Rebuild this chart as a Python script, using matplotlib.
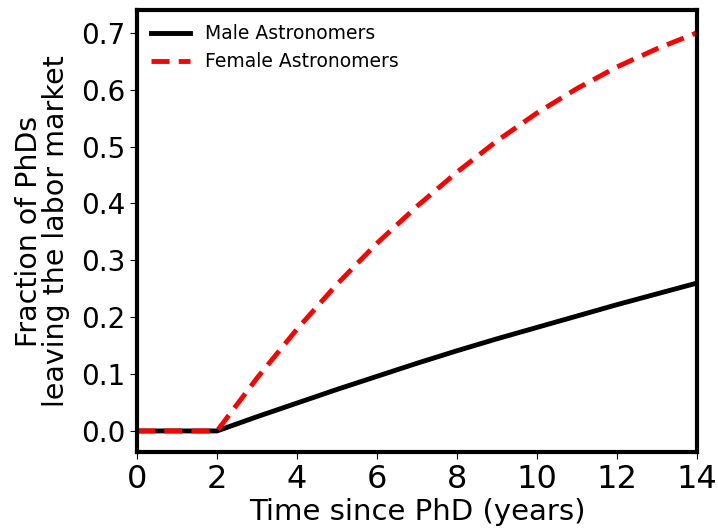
import matplotlib
matplotlib.use('Agg')
import matplotlib.pyplot as plt

# years since PhD
years = [0, 1, 2, 3, 4, 5, 6, 7, 8, 9, 10, 11, 12, 13, 14]
male = [0, 0, 0, 0.025, 0.049, 0.073, 0.096, 0.119, 0.141, 0.162, 0.182,
        0.202, 0.222, 0.241, 0.26]
female = [0, 0, 0, 0.093, 0.179, 0.258, 0.33, 0.395, 0.455, 0.51, 0.559,
          0.602, 0.64, 0.672, 0.70]

fig = plt.figure(figsize=(7.18, 5.29), dpi=100)
ax = fig.add_axes([137/718, 1 - 452/529, 560/718, 442/529])

ax.plot(years, male, '-', color='black', lw=3.5, label='Male Astronomers')
ax.plot(years, female, '--', color='red', lw=3.5, label='Female Astronomers',
        dashes=(3.7, 1.9))

ax.set_xlim(0, 14)
ax.set_ylim(-0.037, 0.74)
ax.set_xticks([0, 2, 4, 6, 8, 10, 12, 14])
ax.set_yticks([0.0, 0.1, 0.2, 0.3, 0.4, 0.5, 0.6, 0.7])
ax.tick_params(axis='x', labelsize=23, length=5)
ax.tick_params(axis='y', labelsize=20, length=5)

for sp in ax.spines.values():
    sp.set_linewidth(3)

ax.set_xlabel('Time since PhD (years)', fontsize=21, labelpad=2)
ax.set_ylabel('Fraction of PhDs\nleaving the labor market', fontsize=20.5,
              linespacing=0.95, labelpad=8)

ax.legend(loc='upper left', frameon=False, fontsize=13.5, handlelength=2.1,
          borderaxespad=0.35)

fig.savefig('out.png', dpi=100, facecolor='white')
